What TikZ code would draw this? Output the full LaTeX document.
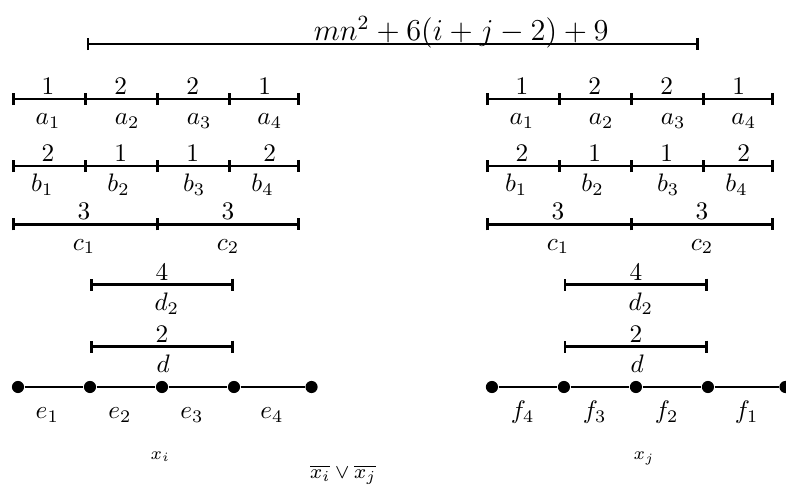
\documentclass[tikz,border=0pt]{standalone}
\usepackage{amsmath, amssymb}
\usetikzlibrary{arrows.meta}

\begin{document}
\begin{tikzpicture}[
    seg/.style={line width=1pt, {Bar[width=4.8pt]}-{Bar[width=4.8pt]}},
    part/.style={line width=1pt, {Bar[width=4.8pt]}-},
    dot/.style={circle, fill, inner sep=0pt, minimum size=4.8pt},
    num/.style={anchor=base, yshift=0.06cm},
    sub/.style={anchor=base, yshift=-0.36cm}]
    \useasboundingbox (-0.167,-5.375) rectangle (10.75,1.375);

    % total length
    \coordinate (T0) at (1.04,0.764);
    \coordinate (T1) at (9.54,0.764);
    \draw[seg] (T0) -- (T1);
    \node[anchor=base] (tot) at (6.24,0.81) {\large $mn^2+6(i+j-2)+9$};

    \foreach \g/\ox in {L/0, R/6.583} {
      \begin{scope}[xshift=\ox cm]
        % rows a and b
        \foreach \i in {0,...,4} {
          \coordinate (\g a\i) at (\i,0);
          \coordinate (\g b\i) at (\i,-0.93);
        }
        \foreach \i [evaluate=\i as \j using int(\i-1)] in {1,...,3} {
          \draw[part] (\g a\j) -- (\g a\i);
          \draw[part] (\g b\j) -- (\g b\i);
        }
        \draw[seg] (\g a3) -- (\g a4);
        \draw[seg] (\g b3) -- (\g b4);
        \foreach \x/\t [count=\k] in {0.5/1, 1.51/2, 2.51/2, 3.51/1}
          \node[num] (\g an\k) at (\x,0) {$\t$};
        \foreach \x [count=\k] in {0.5, 1.6, 2.6, 3.58}
          \node[sub] (\g al\k) at (\x,0) {$a_\k$};
        \foreach \x/\t [count=\k] in {0.5/2, 1.51/1, 2.51/1, 3.58/2}
          \node[num] (\g bn\k) at (\x,-0.93) {$\t$};
        \foreach \x [count=\k] in {0.42, 1.48, 2.53, 3.48}
          \node[sub] (\g bl\k) at (\x,-0.93) {$b_\k$};

        % row c
        \coordinate (\g c0) at (0,-1.74);
        \coordinate (\g c1) at (2,-1.74);
        \coordinate (\g c2) at (4,-1.74);
        \draw[part] (\g c0) -- (\g c1);
        \draw[seg] (\g c1) -- (\g c2);
        \foreach \x [count=\k] in {1, 3} {
          \node[num] (\g cn\k) at (\x,-1.74) {$3$};
          \node[sub] (\g cl\k) at (\x,-1.74) {$c_\k$};
        }

        % rows d2 and d
        \coordinate (\g p0) at (1.083,-2.58);
        \coordinate (\g p1) at (3.083,-2.58);
        \draw[seg] (\g p0) -- (\g p1);
        \node[num] (\g pn) at (2.083,-2.58) {$4$};
        \node[sub] (\g pl) at (2.15,-2.58) {$d_2$};
        \coordinate (\g q0) at (1.083,-3.44);
        \coordinate (\g q1) at (3.083,-3.44);
        \draw[seg] (\g q0) -- (\g q1);
        \node[num] (\g qn) at (2.083,-3.44) {$2$};
        \node[sub] (\g ql) at (2.1,-3.44) {$d$};

        % path of the variable
        \foreach \x [count=\k from 0] in {0.083, 1.083, 2.083, 3.083, 4.16}
          \node[dot] (\g v\k) at (\x,-4) {};
        \foreach \k [evaluate=\k as \j using int(\k-1)] in {1,...,4}
          \draw[semithick] (\g v\j) -- (\g v\k);
      \end{scope}
    }

    \foreach \x [count=\k] in {0.49, 1.5, 2.5, 3.61}
      \node[anchor=base] (e\k) at (\x,-4.44) {$e_\k$};
    \foreach \x/\t [count=\k] in {0.51/4, 1.51/3, 2.51/2, 3.62/1}
      \node[anchor=base] (f\k) at (6.583+\x,-4.44) {$f_\t$};

    \node (xi) at (2.06,-4.97) {\scriptsize $x_i$};
    \node (xj) at (8.78,-4.99) {\scriptsize $x_j$};
    \node (cl) at (4.6,-5.22) {\footnotesize $\overline{x_i}\vee\overline{x_j}$};
\end{tikzpicture}
\end{document}
